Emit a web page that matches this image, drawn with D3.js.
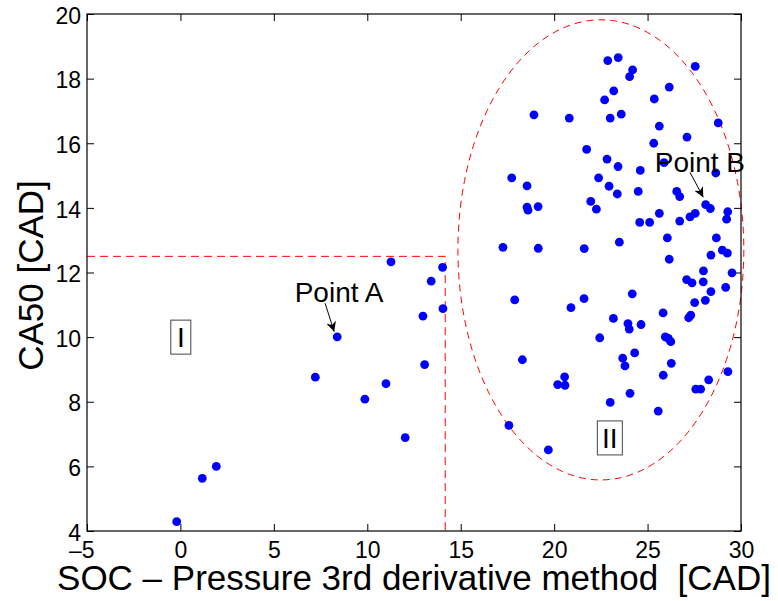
<!DOCTYPE html>
<html>
<head>
<meta charset="utf-8">
<script src="https://cdn.jsdelivr.net/npm/d3@7"></script>
<style>
  body { margin: 0; background: #fff; }
  text { font-family: "Liberation Sans", Arial, Helvetica, sans-serif; }
</style>
</head>
<body>
<script>
// Region I points (SOC vs CA50)
var socI  = [-0.2, 1.17, 1.92, 7.22, 8.39, 9.87, 11.0, 11.27, 12.03, 12.98, 13.07, 13.42, 14.03, 14.05];
var ca50I = [4.29, 5.63, 6.0, 8.76, 10.01, 8.08, 8.56, 12.33, 6.89, 10.65, 9.15, 11.73, 12.16, 10.88];

// Region II points
var socII = [22.87, 23.43, 27.55, 24.20, 24.04, 26.16, 23.19, 22.70, 25.36, 18.92,
             20.81, 23.00, 23.59, 28.78, 25.63, 27.11, 25.33, 21.74, 22.83, 25.88,
             23.42, 24.61, 28.65, 17.73, 18.55, 22.38, 22.94, 23.38, 24.50, 26.56,
             26.72, 18.55, 18.60, 19.14, 21.96, 22.26, 28.11, 28.36, 29.29, 29.23,
             25.63, 27.27, 27.55, 26.72, 24.58, 25.11, 17.26, 19.15, 21.61, 23.49,
             26.06, 28.68, 28.39, 29.00, 29.27, 26.16, 27.99, 29.52, 27.09, 27.38,
             27.98, 28.39, 29.18, 17.89, 21.60, 24.18, 20.90, 27.52, 28.09, 25.83,
             23.17, 27.20, 27.31, 23.95, 24.02, 24.65, 22.44, 25.95, 26.11, 26.24,
             18.30, 23.67, 23.79, 24.31, 26.27, 20.56, 20.19, 20.58, 25.84, 29.30,
             28.27, 27.58, 27.84, 23.00, 24.06, 25.57, 17.58, 19.69];
var ca50II = [18.56, 18.65, 18.38, 18.27, 18.06, 17.74, 17.62, 17.34, 17.37, 16.88,
              16.78, 16.78, 16.90, 16.63, 16.53, 16.19, 16.00, 15.81, 15.51, 15.40,
              15.28, 15.16, 15.08, 14.93, 14.68, 14.93, 14.67, 14.43, 14.51, 14.51,
              14.35, 14.02, 13.93, 14.04, 14.20, 13.96, 14.10, 13.98, 13.88, 13.65,
              13.83, 13.72, 13.83, 13.59, 13.55, 13.55, 12.78, 12.75, 12.74, 12.94,
              13.07, 13.07, 12.54, 12.69, 12.60, 12.41, 12.05, 11.99, 11.78, 11.68,
              11.71, 11.41, 11.54, 11.15, 11.19, 11.34, 10.91, 11.07, 11.14, 10.75,
              10.58, 10.60, 10.68, 10.42, 10.25, 10.39, 9.98, 10.01, 9.96, 9.86,
              9.30, 9.35, 9.11, 9.51, 9.19, 8.77, 8.53, 8.51, 8.82, 8.93,
              8.68, 8.39, 8.39, 7.98, 8.26, 7.71, 7.27, 6.51];

var xTicks = [-5, 0, 5, 10, 15, 20, 25, 30];
var yTicks = [4, 6, 8, 10, 12, 14, 16, 18, 20];

// region I boundary (dashed) and region II ellipse
var boundX = 14.17, boundY = 12.5;
var ellipse = {cx: 22.5, cy: 12.7, rx: 7.65, ry: 7.12};

var margin = {left: 87, right: 37, top: 14, bottom: 70},
    width = 778 - margin.left - margin.right,
    height = 601 - margin.top - margin.bottom;

var svg = d3.select("body").append("svg")
    .attr("width", 778)
    .attr("height", 601)
  .append("g")
    .attr("transform", "translate(" + margin.left + "," + margin.top + ")");

var xScale = d3.scaleLinear().domain([-5, 30]).range([0, width]);
var yScale = d3.scaleLinear().domain([4, 20]).range([height, 0]);

//Axes - ticks pointing inward, matlab style
var fmt = function(d) { return d < 0 ? "\u2013" + Math.abs(d) : d; };
var xAxis = d3.axisBottom(xScale).tickValues(xTicks).tickSize(-7).tickPadding(11).tickFormat(fmt);
var yAxis = d3.axisLeft(yScale).tickValues(yTicks).tickSize(-7).tickPadding(6);
var xAxisTop = d3.axisTop(xScale).tickValues(xTicks).tickSize(-7).tickFormat("");
var yAxisRight = d3.axisRight(yScale).tickValues(yTicks).tickSize(-7).tickFormat("");

var gx = svg.append("g").attr("class", "x axis")
    .attr("transform", "translate(0," + height + ")")
    .call(xAxis);
gx.selectAll("text").attr("dx", function(d) { return d < 0 ? "-0.25em" : 0; });
var gy = svg.append("g").attr("class", "y axis").call(yAxis);
gy.selectAll("text").attr("dy", "0.4em");
svg.append("g").call(xAxisTop);
svg.append("g").attr("transform", "translate(" + width + ",0)").call(yAxisRight);

svg.selectAll(".domain").remove();
svg.selectAll(".tick line").attr("stroke", "#000");
svg.selectAll(".tick text").attr("font-size", "23px").attr("fill", "#000")
    .style("font-family", "'Liberation Sans', Arial, sans-serif");

//Dashed lines bounding region I
svg.append("path")
    .attr("d", "M" + xScale(-5) + "," + yScale(boundY) + "H" + xScale(boundX) + "V" + yScale(4))
    .attr("fill", "none")
    .attr("stroke", "#ff0000")
    .attr("stroke-width", 1)
    .attr("stroke-dasharray", "8,5");

//Ellipse around region II
svg.append("ellipse")
    .attr("cx", xScale(ellipse.cx))
    .attr("cy", yScale(ellipse.cy))
    .attr("rx", xScale(ellipse.cx + ellipse.rx) - xScale(ellipse.cx))
    .attr("ry", yScale(ellipse.cy) - yScale(ellipse.cy + ellipse.ry))
    .attr("fill", "none")
    .attr("stroke", "#ff0000")
    .attr("stroke-width", 1)
    .attr("stroke-dasharray", "7,5");

//Box
svg.append("rect")
    .attr("width", width).attr("height", height)
    .attr("fill", "none").attr("stroke", "#000").attr("stroke-width", 1.2);

//Points
var pts = socI.map(function(d, i) { return [d, ca50I[i]]; })
    .concat(socII.map(function(d, i) { return [d, ca50II[i]]; }));

svg.append("g").selectAll(".dot")
    .data(pts)
    .enter().append("circle")
    .attr("class", "dot")
    .attr("r", 4.4)
    .attr("cx", function(d) { return xScale(d[0]); })
    .attr("cy", function(d) { return yScale(d[1]); })
    .style("fill", "#0000ff");

//Arrow marker
svg.append("defs").append("marker")
    .attr("id", "arrow")
    .attr("viewBox", "0 0 10 10")
    .attr("refX", 10).attr("refY", 5)
    .attr("markerWidth", 10).attr("markerHeight", 10)
    .attr("markerUnits", "userSpaceOnUse")
    .attr("orient", "auto")
  .append("path")
    .attr("d", "M0,0 L10,5 L0,10 L3,5 z")
    .attr("fill", "#000");

var labels = [
  {text: "Point A", x: 8.49, y: 11.10, ax1: 7.74, ay1: 11.05, ax2: 8.23, ay2: 10.17},
  {text: "Point B", x: 27.8, y: 15.12, ax1: 27.27, ay1: 15.10, ax2: 27.98, ay2: 14.33}
];

labels.forEach(function(l) {
  svg.append("text")
      .attr("x", xScale(l.x)).attr("y", yScale(l.y))
      .style("text-anchor", "middle")
      .attr("font-size", "28px")
      .text(l.text);
  svg.append("line")
      .attr("x1", xScale(l.ax1)).attr("y1", yScale(l.ay1))
      .attr("x2", xScale(l.ax2)).attr("y2", yScale(l.ay2))
      .attr("stroke", "#000").attr("stroke-width", 1)
      .attr("marker-end", "url(#arrow)");
});

//Region boxes
var regions = [{text: "I", x: 0.02, y: 10.0, w: 20, h: 34}, {text: "II", x: 22.98, y: 6.88, w: 25, h: 34}];
regions.forEach(function(r) {
  svg.append("rect")
      .attr("x", xScale(r.x) - r.w / 2).attr("y", yScale(r.y) - r.h / 2)
      .attr("width", r.w).attr("height", r.h)
      .attr("fill", "#fff").attr("stroke", "#444").attr("stroke-width", 1);
  svg.append("text")
      .attr("x", xScale(r.x)).attr("y", yScale(r.y) + 10)
      .style("text-anchor", "middle")
      .attr("font-size", "28px")
      .text(r.text);
});

//Axis labels
svg.append("text")
    .attr("x", width / 2)
    .attr("y", height + 59)
    .style("text-anchor", "middle")
    .attr("font-size", "35px")
    .text("SOC \u2013 Pressure 3rd derivative method  [CAD]")
    .style("white-space", "pre");

svg.append("text")
    .attr("transform", "rotate(-90)")
    .attr("x", -height / 2 - 3)
    .attr("y", -44)
    .style("text-anchor", "middle")
    .attr("font-size", "35px")
    .text("CA50 [CAD]");
</script>
</body>
</html>
